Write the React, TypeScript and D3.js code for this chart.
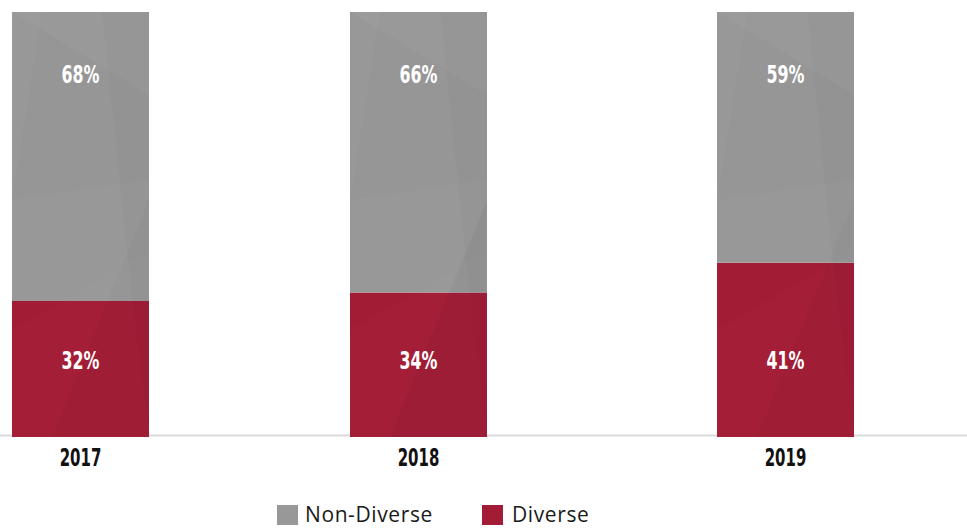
import React from "react";
import * as d3 from "d3";

const years = ["2017", "2018", "2019"];
const diverse = [32, 34, 41];
const nonDiverse = [68, 66, 59];
const seriesNames = ["Non-Diverse", "Diverse"];

const W = 967;
const H = 529;
const GRAY = "#989898";
const RED = "#a31c36";

export default function App() {
  const barW = 137;
  // bar centers (layout)
  const x = d3.scaleOrdinal<string, number>().domain(years).range([80.5, 418.5, 785.5]);
  const y = d3.scaleLinear().domain([0, 100]).range([437, 12]);

  const stackData = years.map((yr, i) => ({ year: yr, Diverse: diverse[i], "Non-Diverse": nonDiverse[i] }));
  const stack = d3.stack<any>().keys(["Diverse", "Non-Diverse"])(stackData);

  const facets = (x0: number, i: number) => [
    { d: `M${x0},${12} L${x0 + barW},${12} L${x0 + barW},${95} Z`, f: "rgba(255,255,255,0.03)" },
    { d: `M${x0},${200} L${x0 + 30},${12} L${x0 + barW},${12} L${x0 + barW},${180} Z`, f: "rgba(0,0,0,0.012)" },
    { d: `M${x0 + 40},${437} L${x0 + barW},${200} L${x0 + barW},${437} Z`, f: i === 1 ? "rgba(0,0,0,0.035)" : "rgba(0,0,0,0.02)" },
    { d: `M${x0},${330} L${x0 + barW},${250} L${x0 + barW},${437} L${x0},${437} Z`, f: "rgba(255,255,255,0.012)" },
    { d: `M${x0 + 90},${12} L${x0 + 137},${12} L${x0 + barW},${437} L${x0 + 120},${300} Z`, f: "rgba(0,0,0,0.015)" },
  ];

  const condFont = "'DejaVu Sans', sans-serif";

  const Cond = ({ cx, cy, size, sx, fill, children }: any) => (
    <g transform={`translate(${cx},${cy}) scale(${sx},1)`}>
      <text x={0} y={0} dy="0.36em" fill={fill} fontSize={size} fontFamily={condFont} fontWeight="bold" textAnchor="middle">
        {children}
      </text>
    </g>
  );

  return (
    <svg width={W} height={H} style={{ position: "absolute", left: 0, top: 0 }}>
      <defs>
        {years.map((yr, i) => (
          <clipPath id={`clip${i}`} key={yr}>
            <rect x={x(yr) - barW / 2} y={12} width={barW} height={425} />
          </clipPath>
        ))}
      </defs>
      <line x1={0} x2={W} y1={435.5} y2={435.5} stroke="#d9d9d9" strokeWidth={2} />
      {stack.map((s) => (
        <g key={s.key}>
          {s.map((d, i) => (
            <rect
              key={i}
              x={x(years[i]) - barW / 2}
              y={y(d[1])}
              width={barW}
              height={y(d[0]) - y(d[1])}
              fill={s.key === "Diverse" ? RED : GRAY}
            />
          ))}
        </g>
      ))}
      {years.map((yr, i) => (
        <g key={yr} clipPath={`url(#clip${i})`}>
          {facets(x(yr) - barW / 2, i).map((p, j) => (
            <path key={j} d={p.d} fill={p.f} />
          ))}
        </g>
      ))}
      {years.map((yr, i) => (
        <g key={yr}>
          <Cond cx={x(yr)} cy={74} size={24} sx={0.66} fill="#fff">{nonDiverse[i]}%</Cond>
          <Cond cx={x(yr)} cy={360} size={24} sx={0.66} fill="#fff">{diverse[i]}%</Cond>
          <Cond cx={x(yr)} cy={457} size={25} sx={0.6} fill="#111">{yr}</Cond>
        </g>
      ))}
      <g fontFamily="'Open Sans', sans-serif" fontSize={21} fill="#1a1a1a" letterSpacing={0.6}>
        <rect x={277} y={505} width={21} height={20} fill={GRAY} />
        <text x={305} y={515} dy="0.35em">{seriesNames[0]}</text>
        <rect x={482} y={505} width={21} height={20} fill={RED} />
        <text x={512} y={515} dy="0.35em">{seriesNames[1]}</text>
      </g>
    </svg>
  );
}
